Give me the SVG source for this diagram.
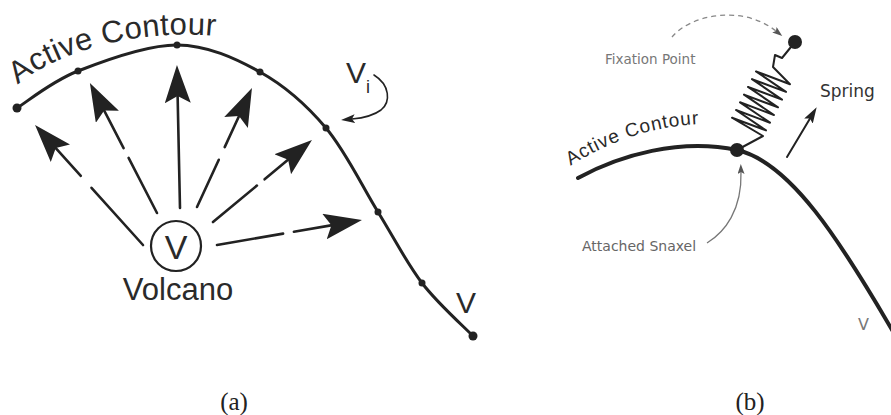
<svg xmlns="http://www.w3.org/2000/svg" width="891" height="415" viewBox="0 0 891 415">
<style>
.ink{fill:none;stroke:#222;stroke-linecap:round;stroke-linejoin:round}
.arr{stroke-width:2.6}
.dot{fill:#222}
.lbl{font-family:"Liberation Sans",Arial,sans-serif;fill:#2a2a2a}
.lblb{font-family:"DejaVu Sans","Liberation Sans",sans-serif}
.cap{font-family:"Liberation Serif","Times New Roman",serif;font-size:25px;fill:#222;text-anchor:middle}
</style>
<defs>
<marker id="big" markerUnits="userSpaceOnUse" viewBox="0 0 38 26" markerWidth="38" markerHeight="26" refX="8" refY="13" orient="auto">
<path d="M38,13 L0,0 L7,13 L0,26 Z" fill="#222"/>
</marker>
<marker id="small" markerUnits="userSpaceOnUse" viewBox="0 0 14 9" markerWidth="14" markerHeight="9" refX="3" refY="4.5" orient="auto">
<path d="M14,4.5 L0,0 L3,4.5 L0,9 Z" fill="#222"/>
</marker>
<marker id="mid" markerUnits="userSpaceOnUse" viewBox="0 0 16 10" markerWidth="16" markerHeight="10" refX="3" refY="5" orient="auto">
<path d="M16,5 L0,0 L3,5 L0,10 Z" fill="#222"/>
</marker>
<marker id="gray" markerUnits="userSpaceOnUse" viewBox="0 0 10 7" markerWidth="10" markerHeight="7" refX="2" refY="3.5" orient="auto">
<path d="M10,3.5 L0,0 L2,3.5 L0,7 Z" fill="#555"/>
</marker>
<path id="tpA" d="M14,88 C55,50 150,25 230,38"/>
<path id="tpB" d="M569,167 C610,140 660,123 714,124"/>
</defs>

<g id="panel-a">
<g id="contour-a">
<path class="ink" stroke-width="3" d="M17,108 C27.2,101.8 51.3,81.5 78,71 C104.7,60.5 146.7,44.8 177,45 C207.3,45.2 235.2,58.2 260,72 C284.8,85.8 306.3,104.7 326,128 C345.7,151.3 362,186.2 378,212 C394,237.8 406.2,262.3 422,283 C437.8,303.7 464.5,327.2 473,336"/>
<circle class="dot" cx="17" cy="108" r="4.5"/>
<circle class="dot" cx="78" cy="71" r="3.5"/>
<circle class="dot" cx="177" cy="45" r="3.5"/>
<circle class="dot" cx="260" cy="72" r="3.5"/>
<circle class="dot" cx="326" cy="128" r="3.5"/>
<circle class="dot" cx="378" cy="212" r="3.5"/>
<circle class="dot" cx="422" cy="283" r="3.5"/>
<circle class="dot" cx="473" cy="336" r="4.5"/>
<text class="lbl" font-size="31"><textPath href="#tpA" startOffset="5" textLength="208" lengthAdjust="spacing">Active Contour</textPath></text>
</g>
<g id="volcano">
<circle cx="176" cy="246" r="25" fill="none" stroke="#222" stroke-width="2.2"/>
<text class="lbl" x="176" y="259" font-size="34" text-anchor="middle">V</text>
<text class="lbl" x="178" y="300" font-size="31" text-anchor="middle">Volcano</text>
</g>
<g id="label-vi">
<text class="lbl" x="346" y="83" font-size="30">V</text>
<text class="lbl" x="366" y="93" font-size="18">i</text>
</g>
<g id="label-v-a">
<text class="lbl" x="456" y="313" font-size="30">V</text>
</g>
<g id="connectors-a">
<line class="ink arr" x1="143" y1="245" x2="91.5" y2="187.8"/>
<line class="ink arr" x1="80.8" y1="175.9" x2="55.1" y2="147.3" marker-end="url(#big)"/>
<line class="ink arr" x1="157" y1="213" x2="128.6" y2="157.9"/>
<line class="ink arr" x1="123.6" y1="148.1" x2="103.7" y2="109.7" marker-end="url(#big)"/>
<line class="ink arr" x1="180" y1="208" x2="177.6" y2="95" marker-end="url(#big)"/>
<line class="ink arr" x1="197" y1="207" x2="218.8" y2="159.8"/>
<line class="ink arr" x1="224.7" y1="147.1" x2="239.4" y2="115.2" marker-end="url(#big)"/>
<line class="ink arr" x1="213" y1="222" x2="256.9" y2="185.6"/>
<line class="ink arr" x1="264.6" y1="179.3" x2="288.9" y2="159.1" marker-end="url(#big)"/>
<line class="ink arr" x1="217" y1="245" x2="283.1" y2="233.6"/>
<line class="ink arr" x1="293.9" y1="231.7" x2="332.4" y2="225.1" marker-end="url(#big)"/>
<path class="ink" stroke-width="1.6" d="M374,75 C390,85 391,102 381,110 C373,116 363,118 352,119" marker-end="url(#small)"/>
</g>
</g>

<g id="panel-b">
<g id="contour-b">
<path class="ink" stroke-width="4" d="M578,178 C620,155 680,138 737,150 C790,162 840,240 895,335"/>
<text class="lbl" font-size="19" fill="#333"><textPath href="#tpB" startOffset="2" textLength="136" lengthAdjust="spacing">Active Contour</textPath></text>
</g>
<g id="spring">
<path class="ink" stroke-width="2" d="M737,150 L763,136 L732,117.7 L766,130.4 L736,110 L770,122.7 L740,102.3 L774,115 L744,94.6 L778,107.3 L748,86.9 L782,99.6 L752,79.1 L786,91.9 L756,71.4 L790,84.2 L773,67 L775,55 L782,58 L795,42"/>
</g>
<g id="snaxel">
<circle class="dot" cx="737" cy="150" r="7"/>
</g>
<g id="fixation-point">
<circle class="dot" cx="795" cy="42" r="7"/>
</g>
<g id="labels-b">
<text class="lblb" x="605" y="64" font-size="13.5" fill="#777">Fixation Point</text>
<text class="lblb" x="820" y="97" font-size="17" fill="#333">Spring</text>
<text class="lblb" x="582" y="251" font-size="14" fill="#666">Attached Snaxel</text>
<text class="lblb" x="858" y="330" font-size="16" fill="#777">V</text>
</g>
<g id="connectors-b">
<path fill="none" stroke="#888" stroke-width="1.3" stroke-dasharray="5,4" d="M672,37 C690,15 742,4 776,31" marker-end="url(#gray)"/>
<path fill="none" stroke="#777" stroke-width="1.3" d="M707,243 C725,232 742,210 741,172" marker-end="url(#gray)"/>
<line class="ink" stroke-width="2" x1="787" y1="157" x2="810" y2="118.5" marker-end="url(#mid)"/>
</g>
</g>

<g id="captions">
<text class="cap" x="234" y="410">(a)</text>
<text class="cap" x="750" y="410">(b)</text>
</g>
</svg>
